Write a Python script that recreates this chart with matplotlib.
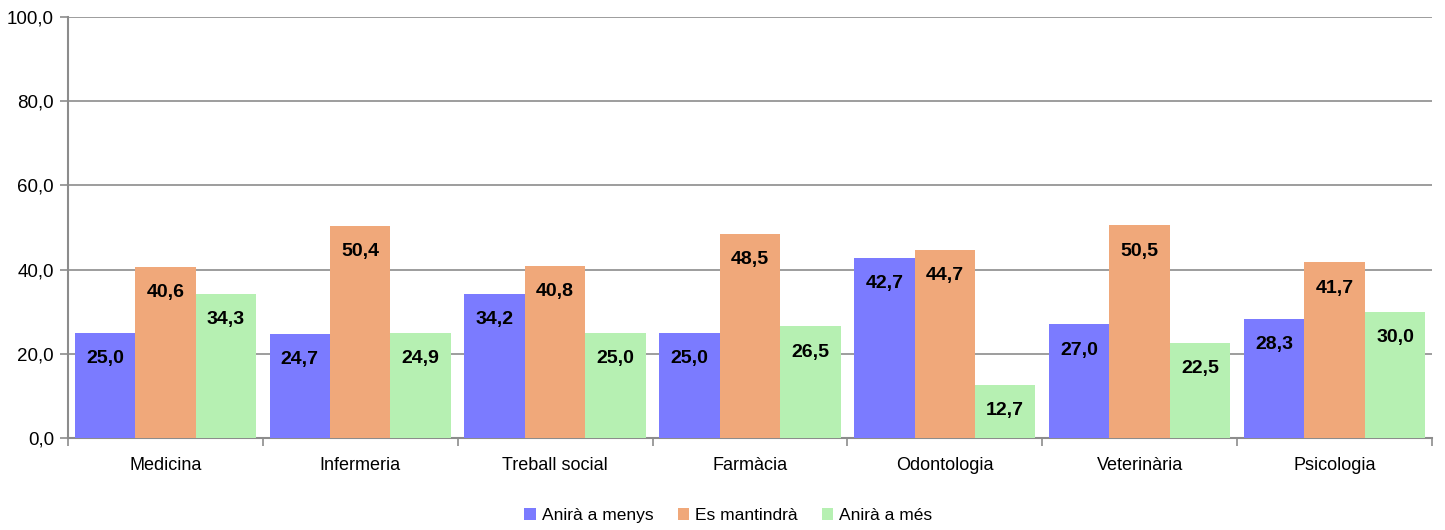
import numpy as np
import matplotlib.pyplot as plt
from matplotlib.ticker import FixedLocator, FuncFormatter

# Dades
titulacions = ['Medicina', 'Infermeria', 'Treball social', 'Farmàcia',
               'Odontologia', 'Veterinària', 'Psicologia']
menys = [25.0, 24.7, 34.2, 25.0, 42.7, 27.0, 28.3]
mante = [40.6, 50.4, 40.8, 48.5, 44.7, 50.5, 41.7]
mes = [34.3, 24.9, 25.0, 26.5, 12.7, 22.5, 30.0]
series = ['Anirà a menys', 'Es mantindrà', 'Anirà a més']
colors = ['#7b7bff', '#f0a87a', '#b6f0b2']

plt.rcParams['font.family'] = ['Liberation Sans', 'DejaVu Sans']

fig = plt.figure(figsize=(14.45, 5.3), dpi=100)
ax = fig.add_axes([0.047, 0.1736, 0.944, 0.7944])

x = np.arange(len(titulacions))
w = 0.31
gris = '#8c8c8c'

for i, (vals, nom, col) in enumerate(zip([menys, mante, mes], series, colors)):
    barres = ax.bar(x + (i - 1) * w, vals, w, color=col, label=nom, zorder=3)
    for b, v in zip(barres, vals):
        ax.annotate(f'{v:.1f}'.replace('.', ','),
                    (b.get_x() + b.get_width() / 2, v),
                    xytext=(0, -18.5), textcoords='offset points',
                    ha='center', va='center', fontsize=14, fontweight='bold',
                    zorder=4)

ax.set_xlim(-0.5, len(titulacions) - 0.5)
ax.set_ylim(0, 100)
ax.set_yticks(np.arange(0, 101, 20))
ax.yaxis.set_major_formatter(FuncFormatter(lambda v, p: f'{v:.1f}'.replace('.', ',')))
ax.yaxis.grid(True, color=gris, linewidth=1.2, zorder=0)

ax.set_xticks(x)
ax.set_xticklabels(titulacions)
ax.xaxis.set_minor_locator(FixedLocator(np.arange(-0.5, len(titulacions), 1)))
ax.tick_params(axis='x', which='major', length=0, pad=14, labelsize=13)
ax.tick_params(axis='x', which='minor', length=6, width=1.2, color=gris, direction='out')
ax.tick_params(axis='y', length=6, width=1.2, color=gris, labelsize=13.5, pad=4)

for s in ['top', 'right']:
    ax.spines[s].set_visible(False)
for s in ['left', 'bottom']:
    ax.spines[s].set_color(gris)
    ax.spines[s].set_linewidth(1.5)

# llegenda centrada a la figura
h, l = ax.get_legend_handles_labels()
fig.legend(h, l, loc='upper center', bbox_to_anchor=(0.504, 0.054), ncol=3, frameon=False,
           fontsize=12.5, handlelength=0.65, handleheight=0.65, handletextpad=0.35,
           columnspacing=1.4, borderaxespad=0)

fig.savefig('out.png', dpi=100)
